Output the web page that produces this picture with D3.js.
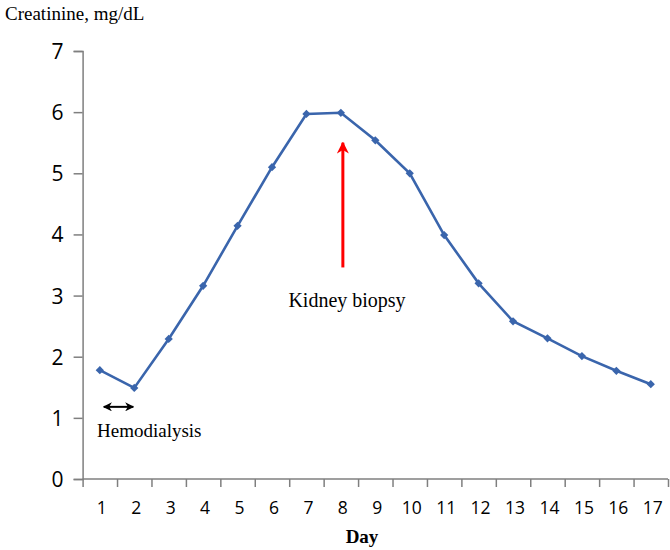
<!DOCTYPE html>
<html><head><meta charset="utf-8">
<script src="https://cdn.jsdelivr.net/npm/d3@7"></script>
<style>body{margin:0;background:#fff}</style>
</head><body>
<svg id="c" width="670" height="550"></svg>
<script>
const days = ["1","2","3","4","5","6","7","8","9","10","11","12","13","14","15","16","17"];
const creatinine = [1.78,1.49,2.29,3.16,4.14,5.10,5.97,5.99,5.54,5.00,3.99,3.20,2.58,2.30,2.01,1.77,1.55];
const yTicks = [0,1,2,3,4,5,6,7];
const yTitle = "Creatinine, mg/dL";
const xTitle = "Day";
const biopsyDay = "8", biopsyFrom = 3.46, biopsyTo = 5.5;
const dialysisDays = ["1","2"], dialysisLevel = 1.18;

const svg = d3.select("#c");
const L = 82.6, R = 668, T = 51, B = 479;
const x = d3.scaleBand().domain(days).range([L, R]);
const y = d3.scaleLinear().domain([0, 7]).range([B, T]);
const axisColor = "#7f7f7f";
const serif = "Liberation Serif, Times New Roman, serif";

// y axis
const ya = svg.append("g").attr("transform", `translate(${L},0)`)
  .call(d3.axisLeft(y).tickValues(yTicks).tickSize(9).tickPadding(10).tickFormat(d3.format("d")));
ya.select(".domain").attr("stroke", axisColor).attr("stroke-width", 1.5);
ya.selectAll(".tick line").attr("stroke", axisColor).attr("stroke-width", 1.5);
ya.selectAll("text").attr("font-family", "Open Sans, sans-serif").attr("font-size", 21).attr("fill", "#000").attr("dy", "0.36em");

// x axis: ticks at band boundaries
const xb = d3.scaleLinear().domain([0, days.length]).range([L, R]);
const xa = svg.append("g").attr("transform", `translate(0,${B})`)
  .call(d3.axisBottom(xb).tickValues(d3.range(0, days.length + 1)).tickSize(8).tickFormat(""));
xa.select(".domain").attr("stroke", axisColor).attr("stroke-width", 1.5).attr("d", `M${L},0H${R}`);
xa.selectAll(".tick line").attr("stroke", axisColor).attr("stroke-width", 1.5);
const xl = svg.append("g").attr("transform", `translate(0,${B})`)
  .call(d3.axisBottom(x).tickSize(0).tickPadding(0));
xl.select(".domain").remove();
xl.selectAll("text").attr("font-family", "Open Sans, sans-serif").attr("font-size", 17.5)
  .attr("fill", "#000").attr("dy", 0).attr("y", 35).attr("dx", 2);

// titles
svg.append("text").attr("x", 5).attr("y", 20).text(yTitle)
  .attr("font-family", serif).attr("font-size", 19);
svg.append("text").attr("x", 362).attr("y", 543).attr("text-anchor", "middle").text(xTitle)
  .attr("font-family", serif).attr("font-size", 19).attr("font-weight", "bold");

// line
const cx = d => x(d) + x.bandwidth() / 2;
const line = d3.line().x((d, i) => cx(days[i])).y(d => y(d));
svg.append("path").datum(creatinine).attr("d", line).attr("fill", "none")
  .attr("stroke", "#3a65ac").attr("stroke-width", 2.6);
svg.selectAll(".pt").data(creatinine).enter().append("path")
  .attr("d", d3.symbol(d3.symbolSquare, 34))
  .attr("transform", (d, i) => `translate(${cx(days[i])},${y(d)}) rotate(45)`)
  .attr("fill", "#3a65ac");

// markers
const defs = svg.append("defs");
defs.append("marker").attr("id", "red").attr("viewBox", "0 0 10 10").attr("refX", 9).attr("refY", 5)
  .attr("markerWidth", 4).attr("markerHeight", 4).attr("orient", "auto")
  .append("path").attr("d", "M0,0L10,5L0,10L3,5Z").attr("fill", "#ff0000");
defs.append("marker").attr("id", "blk").attr("viewBox", "0 0 10 10").attr("refX", 9).attr("refY", 5)
  .attr("markerWidth", 4.5).attr("markerHeight", 4.5).attr("orient", "auto-start-reverse")
  .append("path").attr("d", "M0,0L10,5L0,10L3,5Z").attr("fill", "#000");

// biopsy arrow
svg.append("line").attr("x1", cx(biopsyDay) + 2).attr("x2", cx(biopsyDay) + 2)
  .attr("y1", y(biopsyFrom)).attr("y2", y(biopsyTo))
  .attr("stroke", "#ff0000").attr("stroke-width", 3).attr("marker-end", "url(#red)");
svg.append("text").attr("x", 347).attr("y", 307).attr("text-anchor", "middle").text("Kidney biopsy")
  .attr("font-family", serif).attr("font-size", 20);

// hemodialysis arrow
svg.append("line").attr("x1", cx(dialysisDays[0]) + 4).attr("x2", cx(dialysisDays[1]) - 1)
  .attr("y1", y(dialysisLevel)).attr("y2", y(dialysisLevel))
  .attr("stroke", "#000").attr("stroke-width", 2)
  .attr("marker-start", "url(#blk)").attr("marker-end", "url(#blk)");
svg.append("text").attr("x", 97).attr("y", 437).text("Hemodialysis")
  .attr("font-family", serif).attr("font-size", 19);
</script>
</body></html>
